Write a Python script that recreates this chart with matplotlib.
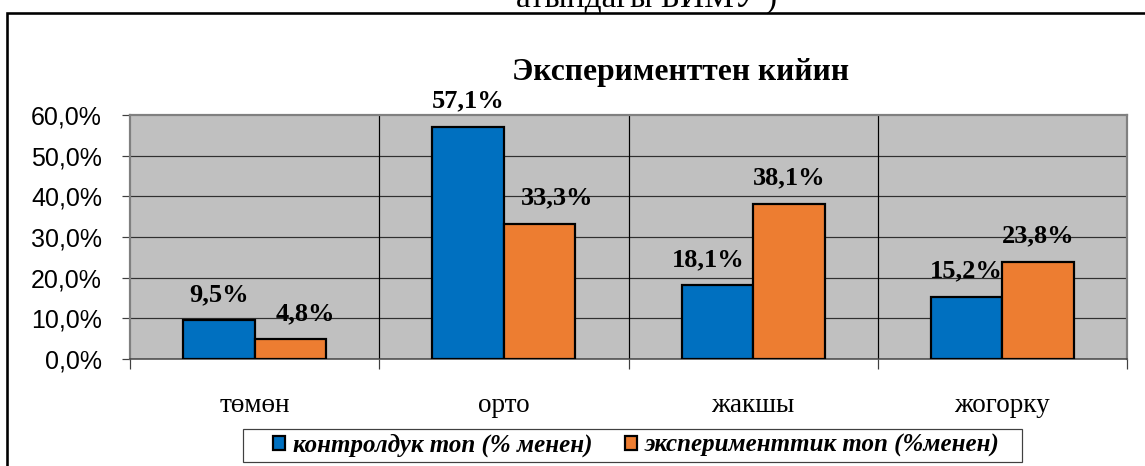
import matplotlib
matplotlib.use("Agg")
import matplotlib.pyplot as plt
from matplotlib.patches import Rectangle
from matplotlib.transforms import blended_transform_factory

categories = ["төмөн", "орто", "жакшы", "жогорку"]
control = [9.5, 57.1, 18.1, 15.2]
experiment = [4.8, 33.3, 38.1, 23.8]
series_names = ["контролдук топ (% менен)", "эксперименттик топ (%менен)"]
yticks = [0, 10, 20, 30, 40, 50, 60]
title = "Эксперименттен кийин"
top_text = "атындагы БИМУ )"

# label nudges (pixels) to mimic the reference placement
ctrl_dx = [0, 0, -9, 0]
exp_dx = [15, 17, 0, 0]

W, H = 1145, 466
fig = plt.figure(figsize=(W / 100, H / 100), dpi=100)
PX = 72 / 100  # points per pixel

serif = ["Liberation Serif", "DejaVu Serif"]
sans = ["Liberation Sans", "DejaVu Sans"]

# outer frame (only left and top edges visible in the reference)
fig.patches.append(Rectangle((7 / W, -0.1), 1.2, (H - 12.5) / H + 0.1,
                             transform=fig.transFigure, fill=False,
                             edgecolor="black", linewidth=2.6 * PX))

fig.text(647 / W, (H - 7) / H, top_text, family=serif, fontsize=24,
         ha="center", va="baseline")

ax = fig.add_axes([130 / W, (H - 359) / H, 997 / W, 244 / H])
ax.set_facecolor("#C0C0C0")

x = list(range(len(categories)))
w = 0.287
xc = [i - w / 2 for i in x]
xe = [i + w / 2 for i in x]
ax.bar(xc, control, width=w, color="#0070C0", edgecolor="black",
       linewidth=2.2 * PX, label=series_names[0], zorder=3)
ax.bar(xe, experiment, width=w, color="#ED7D31", edgecolor="black",
       linewidth=2.2 * PX, label=series_names[1], zorder=3)

ax.set_xlim(-0.5, len(categories) - 0.5)
ax.set_ylim(0, 60)

# gridlines
for yv in yticks[1:-1]:
    ax.axhline(yv, color="#303030", linewidth=1.2 * PX, zorder=1)
for b in [0.5, 1.5, 2.5]:
    ax.axvline(b, color="black", linewidth=1.2 * PX, zorder=1)

for s in ["top", "right", "left"]:
    ax.spines[s].set_color("#808080")
    ax.spines[s].set_linewidth(2.2 * PX)
ax.spines["bottom"].set_color("#404040")
ax.spines["bottom"].set_linewidth(1.5 * PX)

ax.set_yticks(yticks)
ax.set_yticklabels([f"{v:.1f}".replace(".", ",") + "%" for v in yticks],
                   family=sans, fontsize=18)
ax.tick_params(axis="y", length=8 * PX, width=1.2 * PX, pad=20 * PX,
               color="#404040")
ax.set_xticks([-0.5, 0.5, 1.5, 2.5, 3.5])
ax.set_xticklabels([])
ax.tick_params(axis="x", length=10 * PX, width=1.2 * PX, color="#404040")

trans = blended_transform_factory(ax.transData, ax.transAxes)
for i, c in enumerate(categories):
    ax.text(i, -46 / 244, c, transform=trans, family=serif, fontsize=19.5,
            ha="center", va="center")

def lab(v):
    return f"{v:.1f}".replace(".", ",") + "%"

for xs, vals, dxs in [(xc, control, ctrl_dx), (xe, experiment, exp_dx)]:
    for xi, v, dx in zip(xs, vals, dxs):
        ax.annotate(lab(v), (xi, v), xytext=(dx * PX, 26 * PX),
                    textcoords="offset points", ha="center", va="center",
                    family=serif, fontsize=19, fontweight="bold",
                    annotation_clip=False, zorder=5)

fig.text(681 / W, (H - 80) / H, title, family=serif, fontsize=22.7,
         fontweight="bold", ha="center", va="baseline")

# legend frame drawn separately to match reference padding
fig.patches.append(Rectangle((243 / W, 1 - 462 / H), (1022 - 243) / W,
                             33 / H, transform=fig.transFigure,
                             facecolor="white", edgecolor="#404040",
                             linewidth=1.2 * PX, zorder=0))
leg = fig.legend(loc="center", bbox_to_anchor=(636 / W, 1 - 445.5 / H),
                 ncol=2, frameon=False,
                 prop={"family": serif, "size": 18, "weight": "bold",
                       "style": "italic"},
                 handlelength=0.5, handleheight=0.5, handletextpad=0.3,
                 columnspacing=1.3, borderpad=0, borderaxespad=0)

fig.savefig("out.png", dpi=100)
